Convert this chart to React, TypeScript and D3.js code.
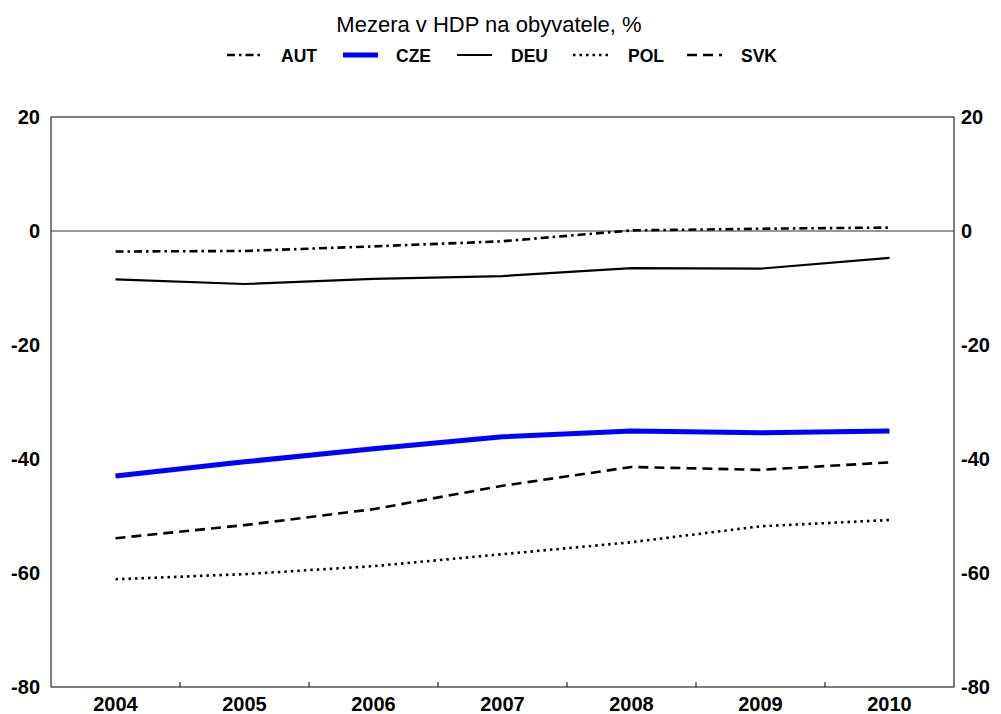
import React from "react";
import * as d3 from "d3";

const years = ["2004", "2005", "2006", "2007", "2008", "2009", "2010"];
const aut = [-3.6, -3.5, -2.7, -1.8, 0.1, 0.4, 0.6];
const cze = [-43.0, -40.5, -38.2, -36.1, -35.1, -35.4, -35.1];
const deu = [-8.5, -9.3, -8.4, -7.9, -6.5, -6.6, -4.7];
const pol = [-61.1, -60.2, -58.8, -56.7, -54.6, -51.8, -50.7];
const svk = [-53.9, -51.6, -48.8, -44.7, -41.4, -41.9, -40.6];
const yTicks = [20, 0, -20, -40, -60, -80];
const title = "Mezera v HDP na obyvatele, %";

const seriesDefs = [
  { name: "AUT", values: aut, color: "#000", width: 2.6, dash: "8,4,2.5,4" },
  { name: "CZE", values: cze, color: "#0000ff", width: 5, dash: "" },
  { name: "DEU", values: deu, color: "#000", width: 2.2, dash: "" },
  { name: "POL", values: pol, color: "#000", width: 2.6, dash: "2.5,4" },
  { name: "SVK", values: svk, color: "#000", width: 2.6, dash: "10,6" },
];
const legendPos = [
  { lx: 227, tx: 281 },
  { lx: 343, tx: 396 },
  { lx: 457, tx: 511 },
  { lx: 573, tx: 628 },
  { lx: 687, tx: 741 },
];

export default function App() {
  const W = 1001, H = 714;
  const left = 51, right = 954, top = 117, bottom = 687;
  const x = d3.scaleBand<string>().domain(years).range([left, right]);
  const y = d3.scaleLinear().domain([-80, 20]).range([bottom, top]);
  const cx = (d: string) => (x(d) as number) + x.bandwidth() / 2;
  const font = "'Liberation Sans', Arial, sans-serif";
  const line = (vals: number[]) =>
    d3.line<number>().x((_, i) => cx(years[i])).y((v) => y(v))(vals) as string;

  return (
    <svg width={W} height={H} style={{ position: "absolute", left: 0, top: 0 }} fontFamily={font}>
      <rect x={0} y={0} width={W} height={H} fill="#fff" />
      <text x={489} y={32} textAnchor="middle" fontSize={22}>{title}</text>
      {seriesDefs.map((s, i) => (
        <g key={s.name}>
          <line x1={legendPos[i].lx} x2={legendPos[i].lx + 35} y1={55} y2={55} stroke={s.color}
            strokeWidth={s.width} strokeDasharray={s.dash || undefined} />
          <text x={legendPos[i].tx} y={62} fontSize={17.5} fontWeight="bold">{s.name}</text>
        </g>
      ))}
      <rect x={left} y={top} width={right - left} height={bottom - top} fill="none" stroke="#000" strokeWidth={1} />
      <line x1={left} x2={right} y1={y(0)} y2={y(0)} stroke="#333" strokeWidth={1} />
      {years.slice(1).map((d) => (
        <line key={d} x1={x(d)} x2={x(d)} y1={bottom} y2={bottom - 5} stroke="#000" />
      ))}
      {yTicks.map((t) => (
        <g key={t}>
          <text x={40} y={y(t) + 7} textAnchor="end" fontSize={20} fontWeight="bold">{t}</text>
          <text x={961} y={y(t) + 7} textAnchor="start" fontSize={20} fontWeight="bold">{t}</text>
        </g>
      ))}
      {years.map((d) => (
        <text key={d} x={cx(d)} y={711} textAnchor="middle" fontSize={20} fontWeight="bold">{d}</text>
      ))}
      {seriesDefs.map((s) => (
        <path key={s.name} d={line(s.values)} fill="none" stroke={s.color} strokeWidth={s.width}
          strokeDasharray={s.dash || undefined} />
      ))}
    </svg>
  );
}
